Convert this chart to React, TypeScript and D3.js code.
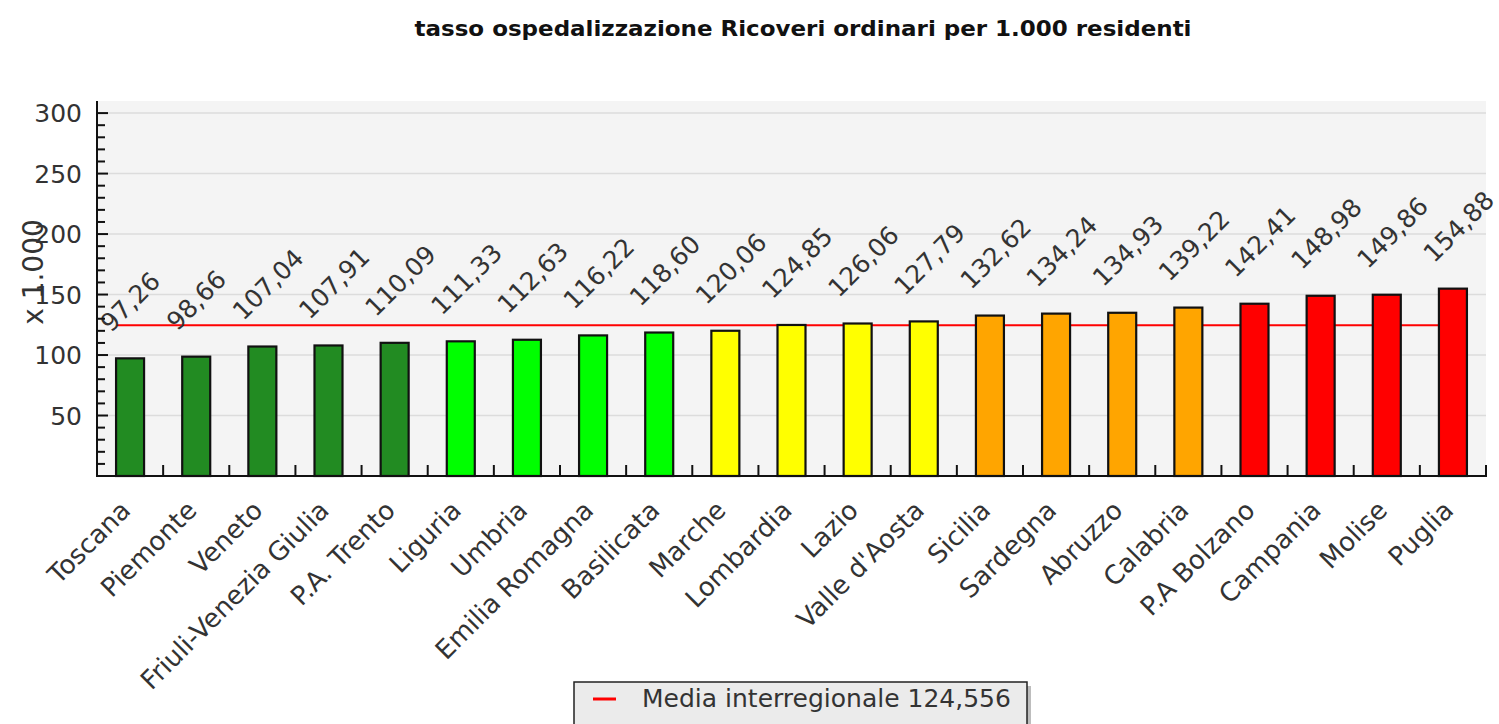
import React, { useEffect, useRef } from 'react';
import * as d3 from 'd3';

const regions: string[] = [
  'Toscana', 'Piemonte', 'Veneto', 'Friuli-Venezia Giulia', 'P.A. Trento',
  'Liguria', 'Umbria', 'Emilia Romagna', 'Basilicata',
  'Marche', 'Lombardia', 'Lazio', "Valle d'Aosta",
  'Sicilia', 'Sardegna', 'Abruzzo', 'Calabria',
  'P.A Bolzano', 'Campania', 'Molise', 'Puglia',
];

const values: number[] = [
  97.26, 98.66, 107.04, 107.91, 110.09,
  111.33, 112.63, 116.22, 118.60,
  120.06, 124.85, 126.06, 127.79,
  132.62, 134.24, 134.93, 139.22,
  142.41, 148.98, 149.86, 154.88,
];

// colour class of each bar
const classes: number[] = [0, 0, 0, 0, 0, 1, 1, 1, 1, 2, 2, 2, 2, 3, 3, 3, 3, 4, 4, 4, 4];
const classColors: string[] = ['#228b22', '#00ff00', '#ffff00', '#ffa500', '#ff0000'];

const mean = 124.556;
const yTicks: number[] = [50, 100, 150, 200, 250, 300];

const W = 1499;
const H = 724;
const FONT = '"DejaVu Sans", Verdana, sans-serif';

const fmt = (v: number) => v.toFixed(2).replace('.', ',');

const App: React.FC = () => {
  const svgRef = useRef<SVGSVGElement | null>(null);

  useEffect(() => {
    const svg = d3.select(svgRef.current);
    svg.selectAll('*').remove();

    const left = 97, right = 1486, top = 101, bottom = 476;
    const barW = 28;

    const x = d3.scaleBand<string>().domain(regions).range([left, right]).padding(0);
    const y = d3.scaleLinear().domain([0, 310]).range([bottom, top]);
    const barX = (r: string) => (x(r) as number) + (x.bandwidth() - barW) / 2;

    // title
    svg.append('text')
      .attr('x', 803).attr('y', 36)
      .attr('text-anchor', 'middle')
      .attr('font-family', '"DejaVu Sans Condensed", "DejaVu Sans", sans-serif')
      .attr('font-weight', 'bold')
      .attr('font-size', 22)
      .attr('textLength', 777)
      .attr('lengthAdjust', 'spacingAndGlyphs')
      .attr('fill', '#111')
      .text('tasso ospedalizzazione Ricoveri ordinari per 1.000 residenti');

    // plot background
    svg.append('rect')
      .attr('x', left).attr('y', top)
      .attr('width', right - left).attr('height', bottom - top)
      .attr('fill', '#f4f4f4');

    // grid
    svg.append('g').selectAll('line')
      .data(yTicks)
      .join('line')
      .attr('x1', left).attr('x2', right)
      .attr('y1', d => y(d)).attr('y2', d => y(d))
      .attr('stroke', '#dcdcdc').attr('stroke-width', 1.5);

    // media line (behind the bars)
    svg.append('line')
      .attr('x1', barX(regions[0])).attr('x2', barX(regions[regions.length - 1]))
      .attr('y1', y(mean)).attr('y2', y(mean))
      .attr('stroke', '#ff0000').attr('stroke-width', 2);

    // bars
    svg.append('g').selectAll('rect')
      .data(regions)
      .join('rect')
      .attr('x', d => barX(d))
      .attr('y', (d, i) => y(values[i]))
      .attr('width', barW)
      .attr('height', (d, i) => bottom - y(values[i]))
      .attr('fill', (d, i) => classColors[classes[i]])
      .attr('stroke', '#111').attr('stroke-width', 2.2);

    // value labels
    svg.append('g').selectAll('text')
      .data(regions)
      .join('text')
      .attr('transform', (d, i) => `translate(${barX(d) - 5},${y(values[i]) - 25}) rotate(-45)`)
      .attr('font-family', FONT).attr('font-size', 25)
      .attr('fill', '#333')
      .text((d, i) => fmt(values[i]));

    // y axis
    const yAxis = svg.append('g');
    yAxis.append('line')
      .attr('x1', left).attr('x2', left).attr('y1', top).attr('y2', bottom)
      .attr('stroke', '#111').attr('stroke-width', 2);
    yAxis.selectAll('line.minor')
      .data(d3.range(10, 310, 10))
      .join('line')
      .classed('minor', true)
      .attr('x1', left).attr('x2', d => left + (d % 50 === 0 ? 11 : 8))
      .attr('y1', d => y(d)).attr('y2', d => y(d))
      .attr('stroke', '#111').attr('stroke-width', 2);
    yAxis.selectAll('text')
      .data(yTicks)
      .join('text')
      .attr('x', 82).attr('y', d => y(d) + 9)
      .attr('text-anchor', 'end')
      .attr('font-family', FONT).attr('font-size', 25)
      .attr('fill', '#333')
      .text(d => d);

    // y axis title
    svg.append('text')
      .attr('transform', 'translate(43,272) rotate(-90)')
      .attr('text-anchor', 'middle')
      .attr('font-family', FONT).attr('font-size', 28)
      .attr('fill', '#333')
      .text('x 1.000');

    // x axis
    const xAxis = svg.append('g');
    xAxis.append('line')
      .attr('x1', left - 1).attr('x2', right + 1).attr('y1', bottom).attr('y2', bottom)
      .attr('stroke', '#111').attr('stroke-width', 2);
    xAxis.selectAll('line.tick')
      .data(regions.slice(1).concat(['__end']))
      .join('line')
      .classed('tick', true)
      .attr('x1', d => (d === '__end' ? right : (x(d) as number)))
      .attr('x2', d => (d === '__end' ? right : (x(d) as number)))
      .attr('y1', bottom).attr('y2', bottom - 11)
      .attr('stroke', '#111').attr('stroke-width', 2);
    xAxis.selectAll('text')
      .data(regions)
      .join('text')
      .attr('transform', d => `translate(${(x(d) as number) + x.bandwidth() / 2 + 2},${bottom + 36}) rotate(-45)`)
      .attr('text-anchor', 'end')
      .attr('font-family', FONT).attr('font-size', 26)
      .attr('fill', '#333')
      .text(d => d);

    // legend
    const lg = svg.append('g');
    lg.append('rect')
      .attr('x', 578).attr('y', 686).attr('width', 453).attr('height', 50)
      .attr('fill', '#bdbdbd');
    lg.append('rect')
      .attr('x', 574).attr('y', 682).attr('width', 453).attr('height', 50)
      .attr('fill', '#ebebeb').attr('stroke', '#222').attr('stroke-width', 1.5);
    lg.append('line')
      .attr('x1', 593).attr('x2', 616).attr('y1', 699).attr('y2', 699)
      .attr('stroke', '#ff0000').attr('stroke-width', 3);
    lg.append('text')
      .attr('x', 642).attr('y', 707)
      .attr('font-family', FONT).attr('font-size', 25)
      .attr('fill', '#333')
      .text(`Media interregionale ${mean.toFixed(3).replace('.', ',')}`);

    return () => {
      svg.selectAll('*').remove();
    };
  }, []);

  return (
    <svg
      ref={svgRef}
      width={W}
      height={H}
      style={{ position: 'absolute', left: 0, top: 0, background: '#fff' }}
    />
  );
};

export default App;
